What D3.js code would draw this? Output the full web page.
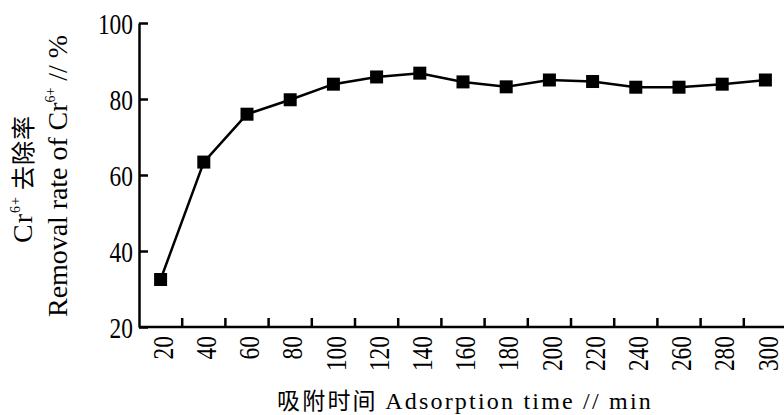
<!DOCTYPE html>
<html>
<head>
<meta charset="utf-8">
<script src="https://cdn.jsdelivr.net/npm/d3@7"></script>
<style>
  body { margin: 0; background: #fff; }
  svg { display: block; }
</style>
</head>
<body>
<svg id="chart" width="784" height="415"></svg>
<script>
// adsorption time (min) and Cr6+ removal rate (%)
var times = [20, 40, 60, 80, 100, 120, 140, 160, 180, 200, 220, 240, 260, 280, 300];
var removal = [32.5, 63.4, 76.0, 79.8, 83.9, 85.8, 86.8, 84.5, 83.2, 85.0, 84.6, 83.1, 83.1, 83.9, 85.0];
var yTicks = [20, 40, 60, 80, 100];

var serif = "'Liberation Serif', serif";
var cjk = "'Noto Sans CJK SC', sans-serif";

var svg = d3.select("#chart");
var plotL = 139, plotR = 787, plotT = 23, plotB = 327;
var squeeze = 0.78;   // narrow glyphs like the original

var x = d3.scaleBand().domain(times).range([plotL, plotR]).padding(0);
var y = d3.scaleLinear().domain([20, 100]).range([plotB, plotT]);
var bw = x.bandwidth();

// spread the letters of a text so it takes the given length
function fit(sel, len){
    var w = sel.node().getComputedTextLength();
    var n = sel.text().length;
    sel.style("letter-spacing", ((len - w) / n) + "px");
}

// y axis
var gy = svg.append("g")
    .attr("transform", "translate(" + plotL + ",0)")
    .call(d3.axisLeft(y).tickValues(yTicks).tickSizeInner(-9).tickSizeOuter(0));
gy.select(".domain").attr("stroke-width", 2.5);
gy.selectAll(".tick line").attr("stroke-width", 2.5);
gy.selectAll(".tick text")
    .style("font-family", serif)
    .style("font-size", "30px")
    .attr("transform", "scale(" + squeeze + ",1)")
    .attr("x", -6 / squeeze)
    .attr("dy", "0.34em");

// x axis (categories, ticks between bands)
var gx = svg.append("g")
    .attr("transform", "translate(0," + plotB + ")")
    .call(d3.axisBottom(x).tickSize(0).tickSizeOuter(0));
gx.select(".domain").attr("stroke-width", 2.5).attr("d", "M" + plotL + ",0H" + plotR);
gx.selectAll(".tick text")
    .style("font-family", serif)
    .style("font-size", "30px")
    .attr("transform", "rotate(-90) scale(" + squeeze + ",1)")
    .attr("text-anchor", "end")
    .attr("x", -9 / squeeze)
    .attr("y", 2)
    .attr("dy", "0.34em");

gx.selectAll(".sep")
    .data(times.slice(1))
    .enter().append("line")
    .attr("class", "sep")
    .attr("x1", function(d){ return x(d); })
    .attr("x2", function(d){ return x(d); })
    .attr("y1", 0)
    .attr("y2", -9)
    .attr("stroke", "#000")
    .attr("stroke-width", 2.5);

// series
var pts = times.map(function(t, i){ return [t, removal[i]]; });
var line = d3.line()
    .x(function(d){ return x(d[0]) + bw / 2; })
    .y(function(d){ return y(d[1]); });

svg.append("path")
    .datum(pts)
    .attr("d", line)
    .attr("fill", "none")
    .attr("stroke", "#000")
    .attr("stroke-width", 2.5);

svg.selectAll(".mk")
    .data(pts)
    .enter().append("rect")
    .attr("class", "mk")
    .attr("x", function(d){ return x(d[0]) + bw / 2 - 6.5; })
    .attr("y", function(d){ return y(d[1]) - 6.5; })
    .attr("width", 13)
    .attr("height", 13)
    .attr("fill", "#000");

// axis titles
var t1 = svg.append("text")
    .attr("transform", "translate(32,179) rotate(-90)")
    .attr("text-anchor", "middle")
    .style("font-family", serif)
    .style("font-size", "28px");
t1.append("tspan").text("Cr");
t1.append("tspan").style("font-size", "14px").attr("dy", -12).text("6+");
t1.append("tspan").style("font-family", cjk).style("font-size", "24px").attr("dy", 12).text(" 去除率");
fit(t1, 128);

var t2 = svg.append("text")
    .attr("transform", "translate(67,176) rotate(-90)")
    .attr("text-anchor", "middle")
    .style("font-family", serif)
    .style("font-size", "28px");
t2.append("tspan").text("Removal rate of Cr");
t2.append("tspan").style("font-size", "14px").attr("dy", -12).text("6+");
t2.append("tspan").attr("dy", 12).text(" // %");
fit(t2, 282);

var t3 = svg.append("text")
    .attr("transform", "translate(465,409)")
    .attr("text-anchor", "middle")
    .style("font-family", serif)
    .style("font-size", "24px");
t3.append("tspan").style("font-family", cjk).style("font-size", "23px").text("吸附时间 ");
t3.append("tspan").text("Adsorption time // min");
fit(t3, 376);
</script>
</body>
</html>
